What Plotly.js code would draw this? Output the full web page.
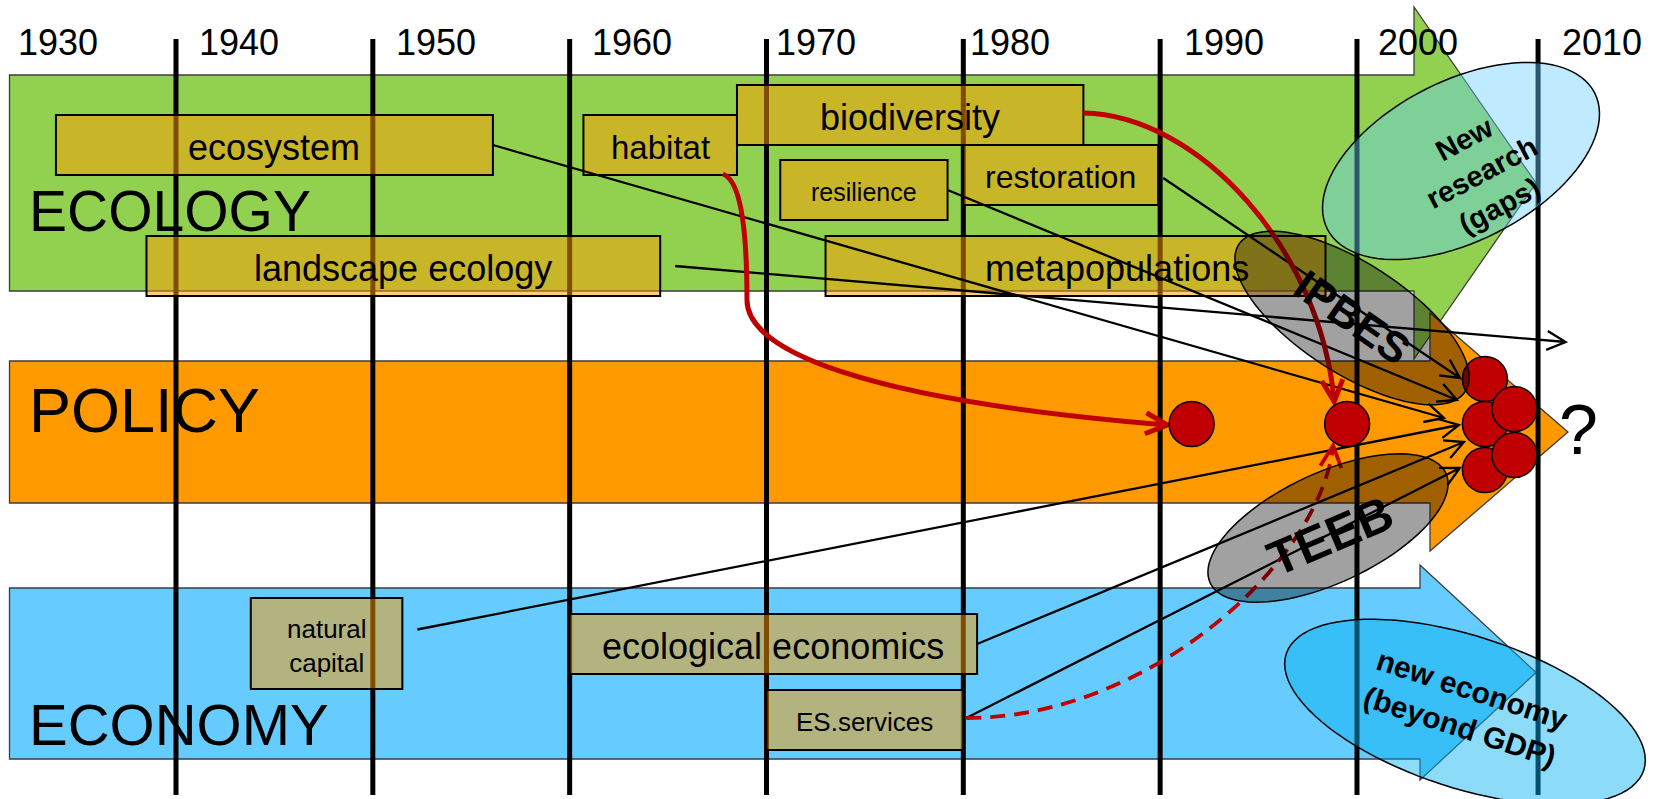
<!DOCTYPE html>
<html><head><meta charset="utf-8">
<script src="https://cdn.plot.ly/plotly-3.0.1.min.js"></script>
<style>html,body{margin:0;padding:0;background:#fff;overflow:hidden}#chart{width:1658px;height:799px}</style>
</head><body><div id="chart"></div>
<script>
// ================= DATA =================
const decadeLabels = ['1930','1940','1950','1960','1970','1980','1990','2000','2010'];
const decadeYears  = [1930, 1940, 1950, 1960, 1970, 1980, 1990, 2000, 2010];
const ruleYears    = [1940, 1950, 1960, 1970, 1980, 1990, 2000, 2009.2];

const domains = ['ECOLOGY', 'POLICY', 'ECONOMY'];

const conceptNames  = ['ecosystem','habitat','biodiversity','resilience','restoration',
                       'landscape ecology','metapopulations','natural<br>capital',
                       'ecological economics','ES.services'];
const conceptDomain = ['ECOLOGY','ECOLOGY','ECOLOGY','ECOLOGY','ECOLOGY',
                       'ECOLOGY','ECOLOGY','ECONOMY','ECONOMY','ECONOMY'];
const conceptStart  = [1933.9, 1960.7, 1968.5, 1970.7, 1980.0, 1938.5, 1973.0, 1943.8, 1960.0, 1970.0];
const conceptEnd    = [1956.1, 1968.5, 1986.1, 1979.2, 1989.9, 1964.6, 1998.4, 1951.5, 1980.7, 1980.0];

// policy milestones (red dots): two single ones, then the cluster
const milestoneYears = [1991.6, 1999.5, 2006.5, 2006.5, 2006.5, 2008.0, 2008.0];

// influence links (concept -> milestone index); -1 = open arrow beyond the cluster
const linkFrom = ['restoration','resilience','ecosystem','natural<br>capital','ecological economics','ES.services','landscape ecology'];
const linkTo   = [2, 3, 3, 3, 3, 4, -1];
const openArrowYear = 2010.6;

// key influences (red arrows)
const keyFrom  = ['habitat','biodiversity','ES.services'];
const keyTo    = [0, 1, 1];
const keyDash  = [false, false, true];

// emerging initiatives (ellipses)
const calloutLabels = ['IPBES','TEEB','New<br>research<br>(gaps)','new economy<br>(beyond GDP)'];

// ================= LAYOUT / STYLE (pixels) =================
const PPY = 19.683, X1940 = 176;
const toYear = p => 1940 + (p - X1940) / PPY;
const toPx = y => X1940 + (y - 1940) * PPY;
const FONT = 'Liberation Sans, Arial, sans-serif';

const bandStyle = {
  ECOLOGY: {left:9.5, right:1414, top:75,  bottom:291, headTop:7,   headBottom:359, tip:1536, fill:'#92D050', labelY:211, size:57},
  POLICY:  {left:9.5, right:1430, top:361, bottom:503, headTop:313, headBottom:551, tip:1568, fill:'#FF9900', labelY:410, size:63},
  ECONOMY: {left:9.5, right:1420, top:588, bottom:759, headTop:565, headBottom:780, tip:1536, fill:'#66CCFF', labelY:724, size:58}
};
const labelNudge = [37,21,21,20,8,5,22,19,6];
const conceptTop    = [115,115,85,160,145,236,236,598,614,690];
const conceptBottom = [175,175,145,220,205,296,296,689,674,750];
const conceptFont   = [36,33,36,25,32,36,36,26,36,26];
const conceptTextDx = [0,0,0,0,0,0,41,0,0,0];
const milestoneY = [424,424,379,424,470,409,455];
const R = 22.5;
const linkGap = [5,0,0,15,0,3,15];
const linkDy  = [3,0,0,-14,0,-2,0];
const linkEnd = [[-25,-1],[-28,-24],[-41,-6],[-26,1],[-21,18],[-25,-2],null];
const openArrowY = 342;

const callout = [
  {cx:1352, cy:318, a:135, b:55, th:33,  fill:'rgba(0,0,0,0.37)',       tx:1352, ty:317, ta:35,  fs:43},
  {cx:1328, cy:528, a:130, b:55, th:-25, fill:'rgba(0,0,0,0.37)',       tx:1330, ty:536, ta:-23, fs:49},
  {cx:1461, cy:161, a:150, b:80, th:-27, fill:'rgba(102,204,255,0.42)', tx:1481, ty:172, ta:-28, fs:29},
  {cx:1465, cy:712, a:188, b:76, th:18,  fill:'rgba(0,176,240,0.45)',   tx:1466, ty:708, ta:18,  fs:30}
];

// ================= BUILD =================
const shapes = [], annotations = [];
const P = (x, y) => toYear(x).toFixed(4) + ',' + y.toFixed(2);
const poly = (pts, close) => 'M' + pts.map(p => P(p[0], p[1])).join('L') + (close ? 'Z' : '');
function barbs(E, from, len, ang) {
  let dx = E[0] - from[0], dy = E[1] - from[1];
  const n = Math.hypot(dx, dy); dx /= n; dy /= n;
  const out = [];
  [ang, -ang].forEach(a => {
    const r = a * Math.PI / 180;
    const rx = dx * Math.cos(r) - dy * Math.sin(r), ry = dx * Math.sin(r) + dy * Math.cos(r);
    out.push([E[0] - len * rx, E[1] - len * ry]);
  });
  return out;
}

// bands (arrows)
domains.forEach(d => {
  const b = bandStyle[d], cy = (b.headTop + b.headBottom) / 2;
  shapes.push({type:'path', layer:'below', fillcolor:b.fill, line:{color:'#3c3c3c', width:1.3},
    path: poly([[b.left,b.top],[b.right,b.top],[b.right,b.headTop],[b.tip,cy],[b.right,b.headBottom],[b.right,b.bottom],[b.left,b.bottom]], true)});
  annotations.push({x:toYear(27), y:b.labelY, xref:'x', yref:'y', text:d, showarrow:false,
    xanchor:'left', yanchor:'middle', font:{family:FONT, size:b.size, color:'#000'}});
});

// decade rules
ruleYears.forEach(y => shapes.push({type:'line', layer:'below', x0:y, x1:y, y0:39, y1:795, line:{color:'#000', width:5}}));

// decade labels
decadeLabels.forEach((t, i) => annotations.push({x:toYear(toPx(decadeYears[i]) + labelNudge[i]), y:42, xref:'x', yref:'y',
  text:t, showarrow:false, xanchor:'left', yanchor:'middle', font:{family:FONT, size:36, color:'#000'}}));

// concepts
conceptNames.forEach((n, i) => {
  shapes.push({type:'rect', layer:'below', x0:conceptStart[i], x1:conceptEnd[i], y0:conceptTop[i], y1:conceptBottom[i],
    fillcolor:'rgba(255,153,0,0.5)', line:{color:'#000', width:2}});
  annotations.push({x:toYear((toPx(conceptStart[i]) + toPx(conceptEnd[i])) / 2 + conceptTextDx[i]),
    y:(conceptTop[i] + conceptBottom[i]) / 2 + 2, xref:'x', yref:'y', text:n, showarrow:false,
    xanchor:'center', yanchor:'middle', font:{family:FONT, size:conceptFont[i], color:'#000'}});
});
const ci = name => conceptNames.indexOf(name);
const mPx = k => [toPx(milestoneYears[k]), milestoneY[k]];

// black links
linkFrom.forEach((name, i) => {
  const c = ci(name);
  const S = [toPx(conceptEnd[c]) + linkGap[i], (conceptTop[c] + conceptBottom[c]) / 2 + linkDy[i]];
  let E;
  if (linkTo[i] < 0) E = [toPx(openArrowYear), openArrowY];
  else { const m = mPx(linkTo[i]); E = [m[0] + linkEnd[i][0], m[1] + linkEnd[i][1]]; }
  const bb = barbs(E, S, 21, 27);
  shapes.push({type:'path', layer:'below', line:{color:'#000', width:2.3},
    path: poly([S, E]) + poly([bb[0], E, bb[1]])});
});

// red key links (bezier curves)
keyFrom.forEach((name, i) => {
  const c = ci(name), m = mPx(keyTo[i]);
  let path, prev, E;
  if (i === 0) {
    const S = [toPx(conceptEnd[c]) - 14, conceptBottom[c] - 1];
    const K = [S[0] + 24, 300];
    E = [m[0] - R - 2, m[1] + 1];
    prev = [K[0] + 114, E[1] - 25];
    path = 'M' + P(S[0], S[1]) + 'C' + P(S[0] + 16, S[1] + 6) + ' ' + P(K[0], K[1] - 80) + ' ' + P(K[0], K[1]) +
           'C' + P(K[0], K[1] + 50) + ' ' + P(prev[0], prev[1]) + ' ' + P(E[0], E[1]);
  } else if (i === 1) {
    const S = [toPx(conceptEnd[c]), (conceptTop[c] + conceptBottom[c]) / 2 - 2];
    E = [m[0] - 13, m[1] - R];
    prev = [E[0] - 13, E[1] - 151];
    path = 'M' + P(S[0], S[1]) + 'C' + P(S[0] + 116, S[1] + 2) + ' ' + P(prev[0], prev[1]) + ' ' + P(E[0], E[1]);
  } else {
    const S = [toPx(conceptEnd[c]) + 3, (conceptTop[c] + conceptBottom[c]) / 2 - 2];
    E = [m[0] - 14, m[1] + R - 1];
    prev = [E[0] - 12, E[1] + 114];
    path = 'M' + P(S[0], S[1]) + 'C' + P(S[0] + 185, S[1]) + ' ' + P(prev[0], prev[1]) + ' ' + P(E[0], E[1]);
  }
  shapes.push({type:'path', layer:'below', path:path,
    line:{color:'#C00000', width: keyDash[i] ? 3.8 : 5, dash: keyDash[i] ? '15px,9px' : 'solid'}});
  const bb = barbs(E, prev, 24, 26);
  shapes.push({type:'path', layer:'below', line:{color:'#C00000', width: keyDash[i] ? 3.8 : 5},
    path: poly([bb[0], E, bb[1]])});
});

// callout ellipses (above markers)
callout.forEach((e, i) => {
  const pts = [], th = e.th * Math.PI / 180;
  for (let k = 0; k < 96; k++) {
    const t = 2 * Math.PI * k / 96;
    pts.push([e.cx + e.a * Math.cos(t) * Math.cos(th) - e.b * Math.sin(t) * Math.sin(th),
              e.cy + e.a * Math.cos(t) * Math.sin(th) + e.b * Math.sin(t) * Math.cos(th)]);
  }
  shapes.push({type:'path', layer:'above', path:poly(pts, true), fillcolor:e.fill, line:{color:'#000', width:1.5}});
  annotations.push({x:toYear(e.tx), y:e.ty, xref:'x', yref:'y', text:'<b>' + calloutLabels[i] + '</b>',
    showarrow:false, textangle:e.ta, xanchor:'center', yanchor:'middle',
    font:{family:FONT, size:e.fs, color:'#000'}});
});

// question mark
annotations.push({x:toYear(1578), y:430, xref:'x', yref:'y', text:'?', showarrow:false,
  xanchor:'center', yanchor:'middle', font:{family:FONT, size:70, color:'#000'}});

const traces = [{
  type:'scatter', mode:'markers', x:milestoneYears, y:milestoneY, hoverinfo:'skip', cliponaxis:false,
  marker:{size:2 * R, color:'#C00000', line:{color:'#000', width:1.5}}
}];

const layout = {
  width:1658, height:799, margin:{l:0, r:0, t:0, b:0}, showlegend:false,
  paper_bgcolor:'#fff', plot_bgcolor:'#fff',
  xaxis:{range:[toYear(0), toYear(1658)], visible:false, fixedrange:true},
  yaxis:{range:[799, 0], visible:false, fixedrange:true},
  shapes:shapes, annotations:annotations
};
Plotly.newPlot('chart', traces, layout, {staticPlot:true, displayModeBar:false});
</script></body></html>
